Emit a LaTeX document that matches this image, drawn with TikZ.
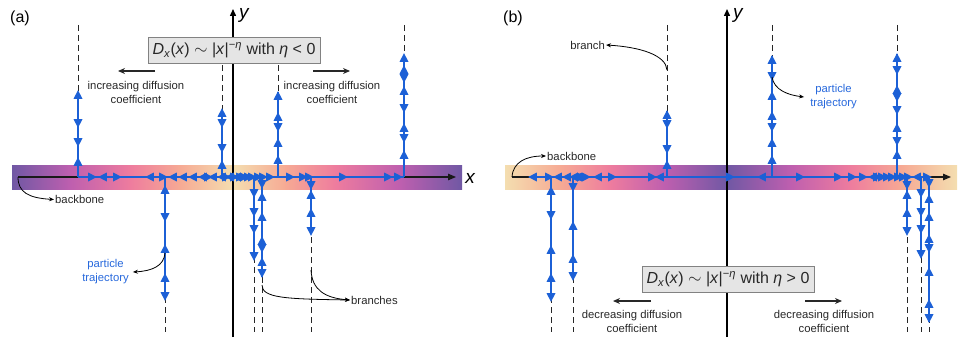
\documentclass[tikz,border=0pt]{standalone}
\usepackage{fontspec}
\setmainfont{Liberation Sans}
\usetikzlibrary{arrows.meta}

\definecolor{trajblue}{RGB}{28,96,214}
\definecolor{labelblue}{RGB}{40,105,220}
\definecolor{inkgrey}{RGB}{40,40,40}
\definecolor{bandcream}{RGB}{244,222,176}
\definecolor{bandpeach}{RGB}{246,170,148}
\definecolor{bandpink}{RGB}{238,124,158}
\definecolor{bandmagenta}{RGB}{190,95,175}
\definecolor{bandpurple}{RGB}{112,88,164}
\definecolor{boxfill}{RGB}{229,229,229}
\definecolor{boxedge}{RGB}{130,130,130}

% direction marks on the trajectory (up, down, left, right)
\newcommand\mkU[2]{\fill[trajblue] (#1,#2) ++(0,-4.8) -- ++(4.5,8.6) -- ++(-9,0) -- cycle;}
\newcommand\mkD[2]{\fill[trajblue] (#1,#2) ++(0,4.8) -- ++(4.5,-8.6) -- ++(-9,0) -- cycle;}
\newcommand\mkL[2]{\fill[trajblue] (#1,#2) ++(-4.8,0) -- ++(8.6,4.5) -- ++(0,-9) -- cycle;}
\newcommand\mkR[2]{\fill[trajblue] (#1,#2) ++(4.8,0) -- ++(-8.6,4.5) -- ++(0,-9) -- cycle;}
\newcommand\vmarks[2]{\foreach \tripos/\tridir in {#2}{\csname mk\tridir\endcsname{#1}{\tripos}}}
\newcommand\hmarks[2]{\foreach \tripos/\tridir in {#2}{\csname mk\tridir\endcsname{\tripos}{#1}}}

% one stretch of the coloured backbone band
\newcommand\bandseg[4]{\shade[left color=#3,right color=#4] (#1,165) rectangle (#2+0.6,189);}

% side branches: dashed comb tooth with the visited part in blue
\newcommand\upbranch[3]{\draw[dashline] (#1,#2) -- (#1,177); \draw[trajline] (#1,#3) -- (#1,177);}
\newcommand\downbranch[2]{\draw[dashline] (#1,177) -- (#1,332); \draw[trajline] (#1,177) -- (#1,#2);}

\begin{document}
\begin{tikzpicture}[x=1pt,y=-1pt,
  dashline/.style={draw=black!85, line width=0.8pt, dash pattern=on 6pt off 4pt},
  trajline/.style={draw=trajblue, line width=1.2pt},
  axisline/.style={draw=black, line width=1.4pt, -{Triangle[length=7pt,width=6pt]}},
  backboneline/.style={draw=black!90, line width=1.2pt, -{Triangle[length=8pt,width=6.5pt]}},
  callout/.style={draw=black, line width=0.8pt, -{Stealth[length=5pt,width=4pt]}},
  trendarrow/.style={draw=inkgrey, line width=1.3pt, -{Stealth[length=7pt,width=6pt]}},
  lbl/.style={text=inkgrey, font=\fontsize{11.3}{14}\selectfont, inner sep=1pt, align=center},
  axislabel/.style={text=black, font=\fontsize{19}{21}\selectfont\itshape, inner sep=1pt},
  panel/.style={text=black, font=\fontsize{16}{18}\selectfont, inner sep=1pt},
  formula/.style={fill=boxfill, draw=boxedge, line width=0.8pt, minimum width=172pt,
    minimum height=26pt, inner sep=2pt, font=\fontsize{16}{19}\selectfont, text=inkgrey}]
\useasboundingbox (0,0) rectangle (960,337);

% ---------- backbone bands ----------
\bandseg{12}{70}{bandpurple}{bandmagenta}
\bandseg{70}{130}{bandmagenta}{bandpink}
\bandseg{130}{180}{bandpink}{bandpeach}
\bandseg{180}{233}{bandpeach}{bandcream}
\bandseg{233}{285}{bandcream}{bandpeach}
\bandseg{285}{335}{bandpeach}{bandpink}
\bandseg{335}{400}{bandpink}{bandmagenta}
\shade[left color=bandmagenta,right color=bandpurple] (400,165) rectangle (462,189);
\bandseg{505}{560}{bandcream}{bandpeach}
\bandseg{560}{610}{bandpeach}{bandpink}
\bandseg{610}{665}{bandpink}{bandmagenta}
\bandseg{665}{727}{bandmagenta}{bandpurple}
\bandseg{727}{790}{bandpurple}{bandmagenta}
\bandseg{790}{850}{bandmagenta}{bandpink}
\bandseg{850}{902}{bandpink}{bandpeach}
\shade[left color=bandpeach,right color=bandcream] (902,165) rectangle (957,189);

% ---------- axes ----------
\coordinate (yA0) at (233,337); \coordinate (yA1) at (233,9);
\coordinate (yB0) at (727,337); \coordinate (yB1) at (727,9);
\draw[axisline] (yA0) -- (yA1);
\draw[axisline] (yB0) -- (yB1);
\node[axislabel, anchor=west] (ylabA) at (238,15) {y};
\node[axislabel, anchor=west] (ylabB) at (732,15) {y};

\coordinate (bbA0) at (18,177); \coordinate (bbA1) at (456,177);
\coordinate (bbB0) at (512,177); \coordinate (bbB1) at (951,177);
\draw[backboneline] (bbA0) -- (bbA1);
\draw[backboneline] (bbB0) -- (bbB1);
\node[axislabel] (xlabA) at (470,178) {x};

% ---------- panel (a): comb with eta < 0 ----------
\upbranch{78}{25}{92}
\upbranch{222}{65}{110}
\upbranch{278}{65}{92}
\upbranch{404}{25}{55}
\downbranch{165}{298}
\downbranch{254}{258}
\downbranch{262}{277}
\downbranch{311}{233}
\draw[trajline] (78,177) -- (404,177);

\vmarks{78}{95/U,123/D,142/D,162/U}
\vmarks{222}{113/U,123/D,148/D,165/U}
\vmarks{278}{96/U,117/U,127/D,143/U,160/U}
\vmarks{404}{58/U,70/U,78/D,91/U,108/D,128/U,138/D,155/U}
\vmarks{165}{190/U,217/D,249/U,278/U,296/D}
\vmarks{254}{193/D,212/D,229/D,256/D}
\vmarks{262}{184/D,197/U,217/U,241/U,248/D,262/U,273/D}
\vmarks{311}{185/D,195/U,213/U,231/D}
\hmarks{177}{92/R,103/L,117/R,150/L,163/R,173/L,183/L,193/L,203/L,208/R,213/L,222/L,226/R,230/L,234/R,237/L,240/R,244/R,248/R,252/R,258/R,263/R,270/R,290/R,303/R,309/R,343/R,388/R,398/R}

% ---------- panel (b): comb with eta > 0 ----------
\upbranch{667}{25}{111}
\upbranch{772}{25}{56}
\upbranch{897}{25}{54}
\downbranch{551}{299}
\downbranch{573}{279}
\downbranch{907}{233}
\downbranch{921}{257}
\downbranch{929}{322}
\draw[trajline] (529,177) -- (929,177);

\vmarks{667}{115/U,124/D,149/D,165/U}
\vmarks{772}{60/U,76/D,96/U,116/U,127/D,143/U,160/U}
\vmarks{897}{58/U,70/D,90/U,97/D,110/D,128/U,141/D,155/U}
\vmarks{551}{191/U,215/D,250/U,278/U,297/D}
\vmarks{573}{187/D,226/U,259/U,276/D}
\vmarks{907}{185/D,195/U,213/U,231/D}
\vmarks{921}{193/D,212/D,229/D,254/D}
\vmarks{929}{183/D,199/U,217/U,239/U,248/D,272/U,304/U,318/D}
\hmarks{177}{533/L,549/R,558/L,567/L,574/L,578/L,581/R,586/R,598/L,612/R,652/R,660/L,730/R,762/L,800/R,838/R,852/R,863/R,873/L,877/R,882/R,887/R,892/R,898/R,903/R,908/R,917/L,927/R}

% ---------- diffusion laws ----------
\node[formula] (lawA) at (234,50) {\textit{D}\textsubscript{\textit{x}}(\textit{x}) $\sim$ |\textit{x}|\textsuperscript{−\textit{η}} with \textit{η} < 0};
\node[formula] (lawB) at (728,279.5) {\textit{D}\textsubscript{\textit{x}}(\textit{x}) $\sim$ |\textit{x}|\textsuperscript{−\textit{η}} with \textit{η} > 0};

% ---------- panel tags ----------
\node[panel] (tagA) at (20,18) {(a)};
\node[panel] (tagB) at (513,18) {(b)};

% ---------- trends of the diffusion coefficient ----------
\node[lbl] (incL) at (136,92) {increasing diffusion\\coefficient};
\node[lbl] (incR) at (332,92) {increasing diffusion\\coefficient};
\node[lbl] (decL) at (632,321) {decreasing diffusion\\coefficient};
\node[lbl] (decR) at (824,321) {decreasing diffusion\\coefficient};
\coordinate (incL0) at (155,71); \coordinate (incL1) at (118,71);
\coordinate (incR0) at (313,71); \coordinate (incR1) at (350,71);
\coordinate (decL0) at (651,301); \coordinate (decL1) at (613,301);
\coordinate (decR0) at (805,301); \coordinate (decR1) at (842,301);
\draw[trendarrow] (incL0) -- (incL1);
\draw[trendarrow] (incR0) -- (incR1);
\draw[trendarrow] (decL0) -- (decL1);
\draw[trendarrow] (decR0) -- (decR1);

% ---------- callouts ----------
\node[lbl, anchor=west] (bbtxtA) at (54,199.5) {backbone};
\draw[callout] (bbA0) .. controls (18,192) and (28,198) .. (bbtxtA.west);

\node[lbl, text=labelblue] (ptA) at (105.5,272) {particle\\trajectory};
\coordinate (ptAsrc) at (165,253);
\draw[callout] (ptAsrc) .. controls (164,266) and (152,271) .. ([xshift=3pt]ptA.east);

\node[lbl, anchor=west] (brA) at (350,300) {branches};
\coordinate (brAsrc1) at (262,285); \coordinate (brAsrc2) at (311,270);
\draw[callout] (brAsrc1) .. controls (262,298) and (285,299) .. (brA.west);
\draw[callout] (brAsrc2) .. controls (312,290) and (325,298) .. (brA.west);

\node[lbl, anchor=east] (brB) at (606,45) {branch};
\coordinate (brBsrc) at (667,70);
\draw[callout] (brBsrc) .. controls (666,55) and (640,47) .. (brB.east);

\node[lbl, anchor=west] (bbtxtB) at (546,156) {backbone};
\draw[callout] (bbB0) .. controls (513,162) and (526,156) .. (bbtxtB.west);

\node[lbl, text=labelblue] (ptB) at (833.5,97) {particle\\trajectory};
\coordinate (ptBsrc) at (772,77);
\draw[callout] (ptBsrc) .. controls (774,90) and (788,95) .. ([xshift=-5pt]ptB.west);
\end{tikzpicture}
\end{document}
